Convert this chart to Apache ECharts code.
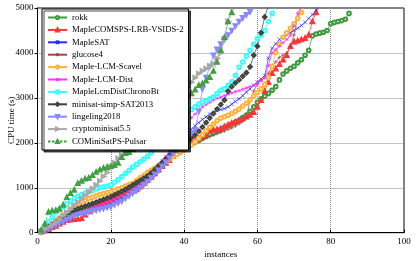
<!DOCTYPE html>
<html><head><meta charset="utf-8">
<script src="https://cdn.jsdelivr.net/npm/echarts@6/dist/echarts.min.js"></script>
<style>html,body{margin:0;padding:0;background:#fff}#c{width:416px;height:261px}</style>
</head><body><div id="c"></div>
<script>
const seriesNames = ["rokk","MapleCOMSPS-LRB-VSIDS-2","MapleSAT","glucose4","Maple-LCM-Scavel","Maple-LCM-Dist","MapleLcmDistChronoBt","minisat-simp-SAT2013","lingeling2018","cryptominisat5.5","COMiniSatPS-Pulsar"];
const xTicks = [0,20,40,60,80,100];
const yTicks = [0,1000,2000,3000,4000,5000];

const rokk = [20,50,90,130,170,210,260,300,350,400, 440,470,500,530,560,590,610,630,650,680, 720,760,800,850,900,950,1000,1060,1120,1180, 1250,1320,1400,1480,1550,1620,1700,1760,1820,1880, 1930,1970,2010,2050,2100,2140,2180,2220,2260,2300, 2340,2380,2420,2460,2500,2560,2620,2700,2800,2900, 2980,3040,3100,3170,3250,3400,3530,3600,3660,3700, 3780,3850,3950,4060,4380,4420,4440,4460,4500,4650, 4680,4700,4720,4750,4880];
const mapleComsps = [20,50,80,120,150,200,240,280,290,300, 310,320,400,480,550,610,640,660,700,740, 780,810,840,870,900,930,960,1030,1100,1170, 1240,1320,1400,1480,1550,1620,1700,1780,1850,1920, 1980,2030,2060,2100,2150,2200,2280,2290,2300,2320, 2360,2400,2440,2470,2500,2540,2580,2620,2680,2800, 2950,3150,3350,3550,3650,3750,3850,3950,4150,4250, 4270,4300,4330,4400,4700,4900,5050];
const mapleSat = [20,60,100,140,180,220,260,300,340,390, 420,450,480,510,530,550,570,590,610,640, 680,720,770,820,870,920,980,1040,1110,1180, 1270,1360,1450,1540,1630,1720,1820,1920,2020,2120, 2220,2300,2380,2450,2520,2580,2640,2680,2720,2740, 2760,2800,2860,2920,2980,3050,3130,3200,3280,3350, 3420,3500,3880,4100,4200,4300,4350,4400,4450,4500, 4550,4610,4680,4770,4850,4950,5050];
const glucose4 = [20,60,100,140,180,220,260,300,340,380, 410,440,470,500,530,560,590,620,650,680, 720,760,800,850,900,950,1000,1060,1120,1180, 1250,1320,1400,1480,1560,1640,1720,1790,1850,1920, 1960,1990,2020,2050,2080,2110,2140,2170,2200,2230, 2260,2300,2330,2370,2420,2480,2550,2950,3150,3300, 3400,3450,3550,3700,3800,3900,3950,4000,4150,4400, 4800,5050];
const lcmScavel = [40,90,150,210,270,330,390,450,520,600, 640,680,720,760,790,820,850,870,890,910, 940,970,1000,1040,1070,1100,1160,1220,1280,1340, 1390,1440,1490,1540,1590,1640,1690,1740,1790,1840, 1890,1950,2020,2100,2180,2270,2350,2420,2490,2550, 2580,2610,2650,2700,2750,2820,2880,2960,3040,3120, 3200,3300,3450,3700,4010,4200,4350,4450,4550,4650, 4770,4900,5050];
const lcmDist = [20,60,100,140,180,220,260,300,350,400, 430,460,490,520,550,580,610,640,670,700, 740,780,820,870,920,980,1040,1100,1170,1250, 1340,1430,1520,1610,1700,1800,1950,2100,2250,2380, 2480,2560,2640,2720,2800,2850,2900,2950,2990,3020, 3050,3080,3110,3140,3160,3190,3220,3250,3280,3320, 3380,3450,3720,4000,4080,4150,4230,4300,4390,4600, 4880,5050];
const chronoBt = [50,150,250,350,450,520,580,640,700,770, 810,850,880,910,940,980,1000,1020,1040,1060, 1120,1180,1250,1320,1390,1460,1520,1580,1640,1700, 1780,1860,1940,2020,2100,2200,2300,2400,2500,2600, 2680,2740,2800,2860,2900,2940,2980,3020,3100,3170, 3200,3280,3360,3500,3680,3800,3930,4060,4200,4320, 4400,4500,4700,4880,5050];
const minisat = [30,80,130,180,230,290,350,410,460,500, 530,560,590,620,650,680,710,740,770,800, 840,880,920,960,1010,1060,1110,1160,1210,1260, 1330,1400,1480,1560,1640,1720,1800,1870,1940,2000, 2060,2120,2180,2260,2350,2450,2550,2650,2750,2850, 2950,3150,3250,3330,3400,3480,3560,3690,3950,4150, 4450,4800,5050];
const lingeling = [20,50,90,130,170,210,250,290,330,370, 400,420,440,460,480,500,520,540,560,580, 620,660,700,760,820,880,940,1000,1070,1140, 1220,1300,1390,1480,1570,1660,1760,1860,1960,2060, 2150,2220,2290,2700,3200,3450,3700,3950,4080,4200, 4300,4400,4500,4600,4700,4780,4850,4920,5050];
const crypto = [30,80,130,180,230,300,380,450,520,600, 680,750,830,900,980,1060,1150,1250,1340,1450, 1550,1650,1720,1800,1900,2000,2100,2200,2300,2400, 2500,2600,2700,2800,2880,2950,3000,3050,3100,3170, 3250,3350,3450,3540,3600,3650,3700,3760,3880,4000, 4300,4700,5050];
const cominisat = [60,200,460,490,500,530,620,790,880,950, 1100,1150,1200,1220,1280,1350,1400,1440,1460,1480, 1500,1550,1680,1770,1790,1850,1950,2080,2200,2310, 2400,2480,2580,2700,2780,2870,2920,2950,2990,3020, 3060,3100,3180,3280,3320,3380,3460,3600,3800,4060, 4350,4700,4900,5050];

const seriesValues = [rokk,mapleComsps,mapleSat,glucose4,lcmScavel,lcmDist,chronoBt,minisat,lingeling,crypto,cominisat];
const colors = ['#3d9a3d','#ff3333','#2a2aff','#a04848','#ffb33a','#ff33ff','#33ffff','#404040','#8888ff','#a8a8a8','#40a040'];
const symbols = ['emptyCircle','emptyTriangle','path://M0,0L10,10M10,0L0,10','path://M5,0L5,10M0,5L10,5','emptyCircle','path://M5,0L5,10M0.7,2.5L9.3,7.5M0.7,7.5L9.3,2.5','emptyCircle','emptyDiamond','emptyPath://M0,0L10,0L5,10Z','emptyPath://M0,0L10,5L0,10Z','emptyTriangle'];

const FONT = '"Liberation Serif","DejaVu Serif",serif';
const series = seriesNames.map((n,k)=>({
  name:n, type:'line',
  data: seriesValues[k].map((v,i)=>[i+1,v]),
  symbol: symbols[k], symbolSize: 3.6, showSymbol:true,
  lineStyle:{width:0.7, color:colors[k], type: k===10?[2.5,1.5]:'solid'},
  itemStyle:{color:colors[k], borderColor:colors[k], borderWidth:0.7},
  emphasis:{disabled:true}, animation:false, clip:true, z:2
}));

const chart = echarts.init(document.getElementById('c'), null, {renderer:'canvas'});
chart.setOption({
  animation:false,
  color: colors,
  grid:{left:37.5, right:12, top:8, bottom:28.3, containLabel:false, outerBoundsMode:'none', show:true, borderColor:'#000', borderWidth:1, backgroundColor:'transparent'},
  xAxis:{type:'value', min:xTicks[0], max:xTicks[xTicks.length-1], interval:20,
    name:'instances', nameLocation:'middle', nameGap:15, nameTextStyle:{fontFamily:FONT,fontSize:9,color:'#000'},
    axisLine:{show:true,lineStyle:{color:'#000',width:1}},
    axisTick:{show:true,inside:true,length:3,lineStyle:{color:'#000'}},
    axisLabel:{fontFamily:FONT,fontSize:9,color:'#000',margin:4},
    splitLine:{show:true,lineStyle:{color:'#888',type:[1,1],width:1}}},
  yAxis:{type:'value', min:yTicks[0], max:yTicks[yTicks.length-1], interval:1000,
    name:'CPU time (s)', nameLocation:'middle', nameGap:26, nameMoveOverlap:false, nameTextStyle:{fontFamily:FONT,fontSize:9,color:'#000', verticalAlign:'middle'},
    axisLine:{show:true,lineStyle:{color:'#000',width:1}},
    axisTick:{show:true,inside:false,length:3,lineStyle:{color:'#000'}},
    axisLabel:{fontFamily:FONT,fontSize:9,color:'#000',margin:4, formatter:(v)=>String(v)},
    splitLine:{show:true,lineStyle:{color:'#888',type:[1,1],width:1}}},
  legend:{show:true, orient:'vertical', left:42, top:9, padding:[4,5,4,5],
    itemWidth:19, itemHeight:4, itemGap:3.4,
    backgroundColor:'#fff', borderColor:'#000', borderWidth:1,
    shadowColor:'rgba(0,0,0,0.7)', shadowBlur:0, shadowOffsetX:2, shadowOffsetY:2,
    textStyle:{fontFamily:FONT,fontSize:8.7,color:'#000',lineHeight:9, height:9, padding:[0,0,0,0]},
    data: seriesNames},
  series: series
});
</script></body></html>
